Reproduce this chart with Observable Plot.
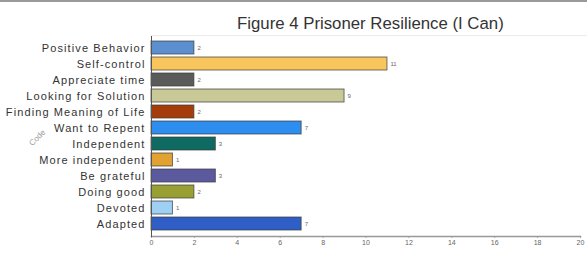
<!DOCTYPE html>
<html>
<head>
<meta charset="utf-8">
<script src="https://cdn.jsdelivr.net/npm/d3@7"></script>
<script src="https://cdn.jsdelivr.net/npm/@observablehq/plot@0.6"></script>
<style>
  body { margin: 0; background: #fff; font-family: "Liberation Sans", Arial, sans-serif; }
  #wrap { width: 587px; height: 276px; position: relative; overflow: hidden; border-top: 2px solid #9a9a9a; box-sizing: border-box; }
  #title { position: absolute; left: 0; top: 12px; width: 587px; padding-left: 237px; box-sizing: border-box; font-size: 16.8px; color: #333; white-space: nowrap; line-height: 1.15; }
  #rule { position: absolute; left: 151px; top: 33px; width: 436px; height: 1px; background: #ebebeb; }
  #chart { position: absolute; left: 0; top: 34px; }
</style>
</head>
<body>
<div id="wrap">
  <div id="rule"></div>
  <div id="title">Figure 4 Prisoner Resilience (I Can)</div>
  <div id="chart"></div>
</div>
<script>
const categories = ["Positive Behavior", "Self-control", "Appreciate time", "Looking for Solution",
  "Finding Meaning of Life", "Want to Repent", "Independent", "More independent",
  "Be grateful", "Doing good", "Devoted", "Adapted"];
const counts = [2, 11, 2, 9, 2, 7, 3, 1, 3, 2, 1, 7];
const palette = ["#5b8fd0", "#f8c65c", "#5a5a5a", "#c9c897", "#a53c0c", "#2d8ef0",
  "#0f6a62", "#e1a232", "#5b5a9e", "#98a034", "#9dd0f2", "#2f5ec6"];
const xTicks = [0, 2, 4, 6, 8, 10, 12, 14, 16, 18, 20];
const axisTitle = "Code";

const data = categories.map((c, i) => ({category: c, count: counts[i]}));

const chart = Plot.plot({
  width: 587,
  height: 214,
  marginLeft: 151,
  marginRight: 7,
  marginTop: 0,
  marginBottom: 14,
  style: {fontFamily: "Liberation Sans, Arial, sans-serif", background: "transparent", overflow: "visible"},
  x: {domain: [0, 20], ticks: xTicks, label: null},
  y: {domain: categories, padding: 0.18, label: null},
  color: {domain: categories, range: palette},
  marks: [
    Plot.barX(data, {x: "count", y: "category", fill: "category", stroke: "#3a3a3a", strokeWidth: 1, strokeOpacity: 0.7}),
    Plot.text(data, {x: "count", y: "category", text: d => String(d.count), dx: 3, textAnchor: "start", fontSize: 6, fill: "#666"}),
    Plot.axisX({ticks: xTicks, tickSize: 2, fontSize: 7, fill: "#666", stroke: "#aaa", tickPadding: 2}),
    Plot.axisY({tickSize: 0, tickPadding: 6, fontSize: 11, fill: "#333"}),
    Plot.frame({anchor: "bottom", stroke: "#999", strokeWidth: 1.5}),
    Plot.frame({anchor: "left", stroke: "#555", strokeWidth: 1}),
    Plot.text([axisTitle], {text: d => d, frameAnchor: "left", dx: -121, dy: 8, rotate: -45, fontSize: 8, fill: "#999"})
  ]
});
d3.select(chart).selectAll('g[aria-label="y-axis tick label"] text').attr("letter-spacing", "1.1px");
document.getElementById("chart").appendChild(chart);
</script>
</body>
</html>
